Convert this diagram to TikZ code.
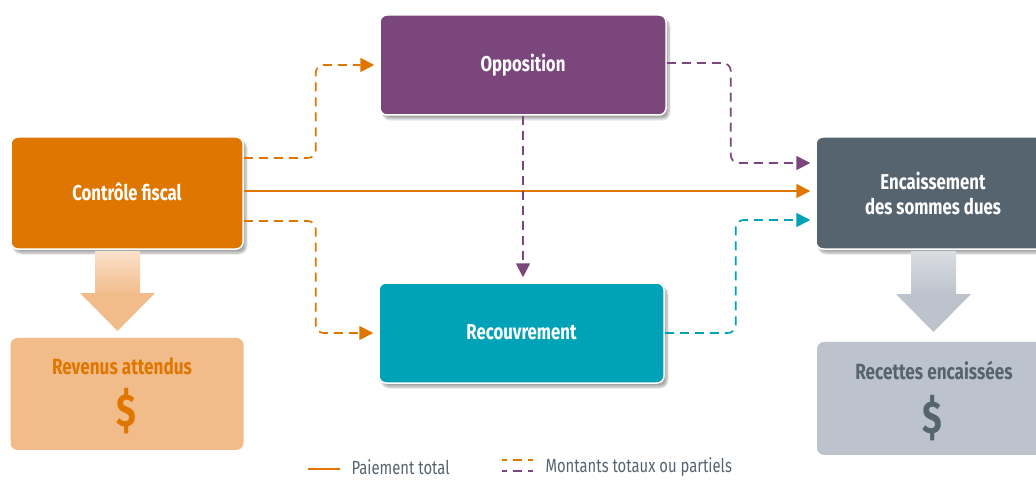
\documentclass[tikz,border=0pt]{standalone}
\usepackage{fontspec}
\setmainfont{Fira Sans}[FakeStretch=0.78]
\usepackage{tikz}
\usetikzlibrary{positioning,arrows.meta,shadows.blur}
\definecolor{ctrlc}{HTML}{DF7600}
\definecolor{oppc}{HTML}{7A467B}
\definecolor{recc}{HTML}{00A2B7}
\definecolor{encc}{HTML}{566470}
\definecolor{revc}{HTML}{F2BC8A}
\definecolor{retc}{HTML}{BCC3CC}

\begin{document}
\begin{tikzpicture}[x=1pt, y=-1pt,
  stage/.style={rectangle, rounded corners=7pt, draw=white, line width=1.5pt,
    inner sep=0pt, text=white, align=center,
    font=\fontsize{21.5}{25}\selectfont\bfseries,
    blur shadow={shadow xshift=3pt, shadow yshift=-4pt, shadow blur steps=8, shadow opacity=35}},
  result/.style={rectangle, rounded corners=7pt, inner sep=0pt, align=center,
    minimum width=233pt, minimum height=112pt},
  dollar/.style={font=\fontsize{46}{46}\selectfont\bfseries},
  full/.style={line width=1.7pt, -{Triangle[length=14pt,width=14pt]}, shorten >=5pt},
  partial/.style={full, dash pattern=on 9pt off 6pt, rounded corners=8pt},
  legend/.style={anchor=west, text=encc, font=\fontsize{19}{20}\selectfont}]
\useasboundingbox (0,0) rectangle (1036,481);

% main stages
\node[stage, fill=ctrlc, minimum width=232pt, minimum height=112pt] (ctrl) at (127,193) {\raisebox{2pt}{Contrôle fiscal}};
\node[stage, fill=oppc, minimum width=286pt, minimum height=100pt] (opp) at (523,65) {\raisebox{2pt}{Opposition}};
\node[stage, fill=recc, minimum width=285pt, minimum height=100pt] (rec) at (521.5,333) {\raisebox{2pt}{Recouvrement}};
\node[stage, fill=encc, minimum width=234pt, minimum height=112pt] (enc) at (933,193) {Encaissement\\des sommes dues};

% big arrows and results
\shade[top color=revc!45, bottom color=revc] (95,251) rectangle (140,294);
\fill[revc] (80,293) -- (155,293) -- (117.5,331) -- cycle;
\shade[top color=retc!55, bottom color=retc] (911,251) rectangle (956,295);
\fill[retc] (896,294) -- (971,294) -- (933.5,332) -- cycle;
\node[result, fill=revc, below=88pt of ctrl] (rev) {};
\node[result, fill=retc, minimum width=232pt, minimum height=113pt, below=92pt of enc] (ret) {};
\node[text=ctrlc, font=\fontsize{22}{24}\selectfont\bfseries] (revt) at (122,366) {Revenus attendus};
\node[text=ctrlc, dollar] (revd) at (126.5,411) {\$};
\node[text=encc, font=\fontsize{22}{24}\selectfont\bfseries] (rett) at (934,371) {Recettes encaissées};
\node[text=encc, dollar] (retd) at (932,418) {\$};

% connectors
\draw[partial, draw=ctrlc] ([yshift=35pt]ctrl.east) -- ++(72,0) |- (opp.west);
\draw[partial, draw=ctrlc] ([yshift=-28pt]ctrl.east) -- ++(72,0) |- (rec.west);
\draw[full, draw=ctrlc] ([yshift=2pt]ctrl.east) -- ([yshift=2pt]enc.west);
\draw[partial, draw=oppc] ([yshift=2pt]opp.east) -- ++(64,0) |- ([yshift=30pt]enc.west);
\draw[partial, draw=recc] (rec.east) -- ++(71,0) |- ([yshift=-27pt]enc.west);
\draw[partial, draw=oppc] (opp.south) -- (opp.south |- rec.north);

% legend
\coordinate (solidA) at (308,469);
\coordinate (dashA) at (502,460);
\coordinate (dashB) at (502,471);
\draw[ctrlc, line width=1.7pt] (solidA) -- ++(32,0);
\node[legend] (solidT) at (348,467) {Paiement total};
\draw[ctrlc, line width=1.7pt, dash pattern=on 5pt off 6pt on 9pt off 6pt on 5pt] (dashA) -- ++(32,0);
\draw[oppc, line width=1.7pt, dash pattern=on 5pt off 6pt on 9pt off 6pt on 5pt] (dashB) -- ++(32,0);
\node[legend] (dashT) at (542,467) {Montants totaux ou partiels};
\end{tikzpicture}
\end{document}
